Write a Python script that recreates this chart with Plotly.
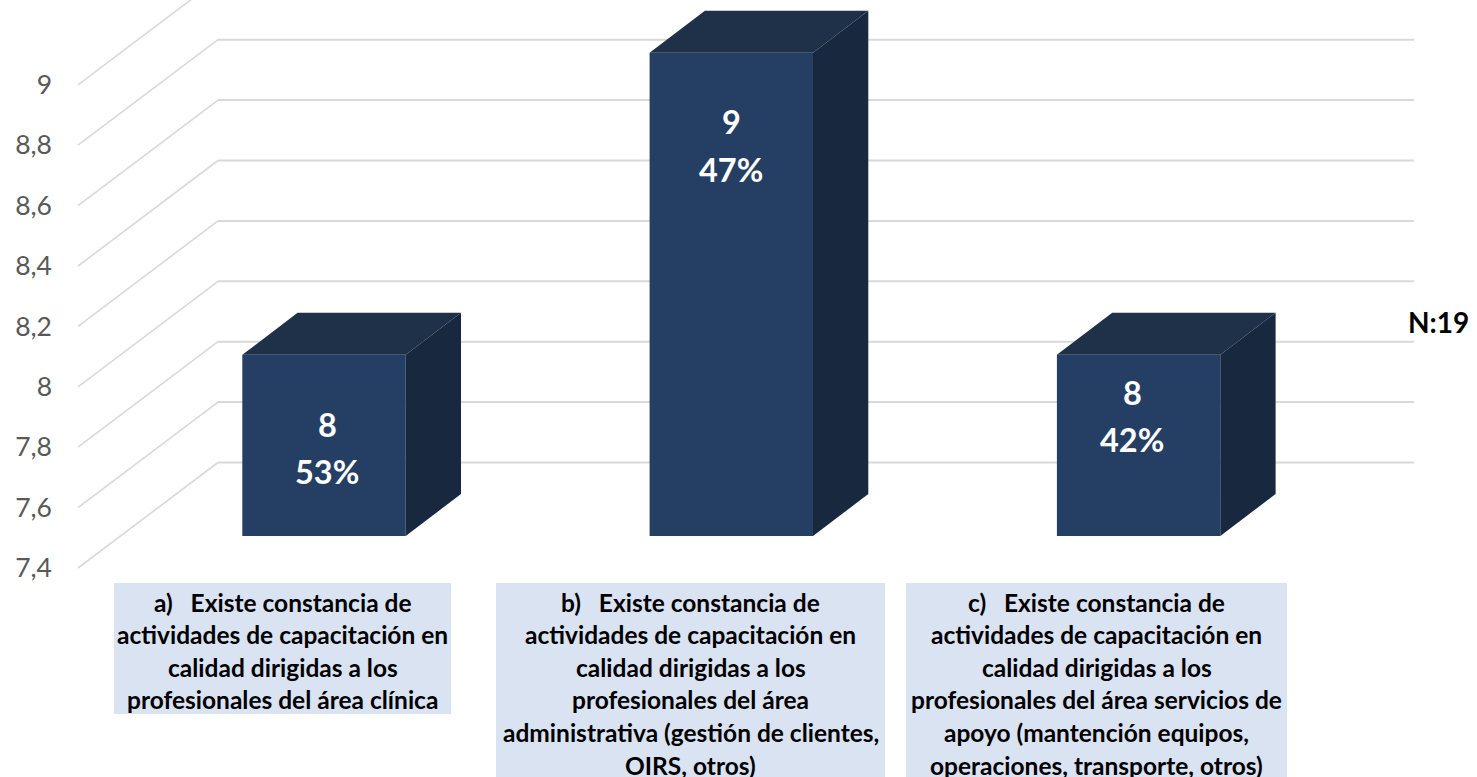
import plotly.graph_objects as go

# ---- data ----
values = [8, 9, 8]
percents = ["53%", "47%", "42%"]
tick_values = [7.4, 7.6, 7.8, 8.0, 8.2, 8.4, 8.6, 8.8, 9.0]
tick_labels = ["7,4", "7,6", "7,8", "8", "8,2", "8,4", "8,6", "8,8", "9"]
category_lines = [
    ["a)\u00a0\u00a0\u00a0Existe constancia de", "actividades de capacitación en",
     "calidad dirigidas a los", "profesionales del área clínica"],
    ["b)\u00a0\u00a0\u00a0Existe constancia de", "actividades de capacitación en",
     "calidad dirigidas a los", "profesionales del área",
     "administrativa (gestión de clientes,", "OIRS, otros)"],
    ["c)\u00a0\u00a0\u00a0Existe constancia de", "actividades de capacitación en",
     "calidad dirigidas a los", "profesionales del área servicios de",
     "apoyo (mantención equipos,", "operaciones, transporte, otros)"],
]
note = "N:19"

# ---- page geometry (pixels) ----
W, H = 1477, 777
ML = 53
PX_PER_CAT = 407.3
PX_CAT0 = 324.0
PX_PER_UNIT = 302.0
PY_BASE = 568.0
BASE = 7.4


def xd(px):
    return (px - PX_CAT0) / PX_PER_CAT


def dy(px):
    return px / PX_PER_UNIT


def yd(py):
    return BASE + (PY_BASE - py) / PX_PER_UNIT


FRONT = "#243F63"
TOP = "#1E3149"
SIDE = "#18293F"
GRID = "#D9D9D9"
BOX = "#DAE3F1"
TICK = "#595959"
FONT = "Lato"

bar_w = 163.4 / PX_PER_CAT
front_off = dy(32)
depth_x, depth_y = 55.3 / PX_PER_CAT, dy(42)
wall_x0, wall_x1, wall_x2 = xd(78), xd(218), xd(1414)
wall_dy = dy(105.5)

shapes = []
for v in tick_values:
    shapes.append(dict(type="line", layer="below", xref="x", yref="y",
                       x0=wall_x0, y0=v, x1=wall_x1, y1=v + wall_dy,
                       line=dict(color=GRID, width=1.6)))
    shapes.append(dict(type="line", layer="below", xref="x", yref="y",
                       x0=wall_x1, y0=v + wall_dy, x1=wall_x2, y1=v + wall_dy,
                       line=dict(color=GRID, width=2)))

fig = go.Figure()
xs = list(range(len(values)))
fig.add_trace(go.Bar(x=xs, y=[v - BASE for v in values], base=BASE + front_off,
                     width=bar_w, marker=dict(color=FRONT, line=dict(width=0)),
                     hoverinfo="skip", showlegend=False))

for i, v in zip(xs, values):
    l, r = i - bar_w / 2, i + bar_w / 2
    b, t = BASE + front_off, v + front_off
    fig.add_trace(go.Scatter(x=[l, r, r + depth_x, l + depth_x, l],
                             y=[t, t, t + depth_y, t + depth_y, t],
                             mode="lines", fill="toself", fillcolor=TOP,
                             line=dict(width=0), hoverinfo="skip", showlegend=False))
    fig.add_trace(go.Scatter(x=[r, r + depth_x, r + depth_x, r, r],
                             y=[b, b + depth_y, t + depth_y, t, b],
                             mode="lines", fill="toself", fillcolor=SIDE,
                             line=dict(width=0), hoverinfo="skip", showlegend=False))

annotations = []
# bar value labels: x px, (first line y px, second line y px)
label_px = [327, 731, 1132]
label_py = [(424, 471), (121, 169), (392, 439)]
for px, v, p, (p1, p2) in zip(label_px, values, percents, label_py):
    for txt, py in ((str(v), p1), (p, p2)):
        annotations.append(dict(x=xd(px), y=yd(py), xref="x", yref="y", text=f"<b>{txt}</b>",
                                showarrow=False, xanchor="center", yanchor="middle",
                                font=dict(family=FONT, size=32.5, color="white")))

# category labels
boxes = [(114, 451, 583, 714), (496, 885, 583, 777), (906, 1287, 583, 777)]
line_step = 32.6
for lines, (x0, x1, y0, y1) in zip(category_lines, boxes):
    shapes.append(dict(type="rect", layer="below", xref="paper", yref="paper",
                       x0=(x0 - ML) / (W - ML), x1=(x1 - ML) / (W - ML),
                       y0=1 - y1 / H, y1=1 - y0 / H,
                       fillcolor=BOX, line=dict(width=0)))
    for j, line in enumerate(lines):
        annotations.append(dict(x=xd((x0 + x1) / 2), y=yd(602 + j * line_step), xref="x", yref="y",
                                text=f"<b>{line}</b>", showarrow=False,
                                xanchor="center", yanchor="middle",
                                font=dict(family=FONT, size=24.5, color="black")))

annotations.append(dict(x=xd(1438), y=yd(322), xref="x", yref="y", text=f"<b>{note}</b>",
                        showarrow=False, xanchor="center", yanchor="middle",
                        font=dict(family=FONT, size=28, color="black")))

fig.update_layout(
    width=W, height=H, autosize=False,
    margin=dict(l=ML, r=0, t=0, b=0),
    paper_bgcolor="white", plot_bgcolor="white",
    shapes=shapes, annotations=annotations, showlegend=False,
    xaxis=dict(range=[xd(ML), xd(W)], showgrid=False, zeroline=False,
               showticklabels=False, ticks="", showline=False, fixedrange=True),
    yaxis=dict(range=[yd(H), yd(0)], showgrid=False, zeroline=False, showline=False,
               tickmode="array", tickvals=tick_values, ticktext=tick_labels,
               ticks="", ticklen=0, tickfont=dict(family=FONT, size=26.5, color=TICK),
               fixedrange=True),
)
fig.write_html("out.html", config=dict(displayModeBar=False),
               post_script="document.body.style.margin='0';document.documentElement.style.overflow='hidden';")
